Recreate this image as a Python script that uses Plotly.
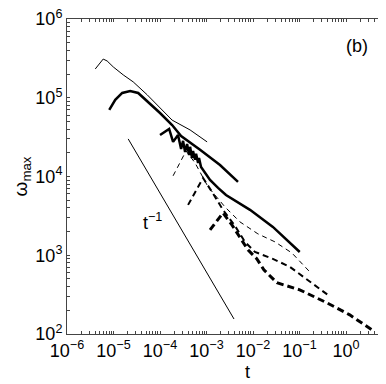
import plotly.graph_objects as go

# thin solid curve
thinT = [4.05e-6, 6.0e-6, 7.3e-6, 9.9e-6, 1.62e-5, 2.65e-5, 5.3e-5, 1.0e-4, 1.82e-4, 4.43e-4, 1.03e-3]
thinW = [2.32e5, 3.10e5, 2.93e5, 2.46e5, 1.95e5, 1.59e5, 1.09e5, 7.4e4, 5.2e4, 3.9e4, 2.75e4]

# thick solid curve
thickT = [8.1e-6, 1.09e-5, 1.54e-5, 2.28e-5, 3.39e-5, 5.56e-5, 1.0e-4, 1.82e-4, 2.84e-4, 7.26e-4, 1.95e-3, 4.75e-3]
thickW = [7.0e4, 9.4e4, 1.15e5, 1.22e5, 1.15e5, 8.85e4, 6.4e4, 4.5e4, 3.27e4, 2.18e4, 1.40e4, 8.55e3]

# thick solid curve with oscillations
oscT = [1.00e-4, 1.57e-4, 1.91e-4, 2.44e-4, 2.84e-4, 3.13e-4, 3.46e-4, 3.82e-4, 4.22e-4, 4.43e-4,
        4.89e-4, 5.13e-4, 5.66e-4, 5.96e-4, 6.58e-4, 6.90e-4, 7.62e-4, 8.41e-4, 1.19e-3, 1.77e-3,
        2.62e-3, 8.6e-3, 2.67e-2, 0.101]
oscW = [3.37e4, 4.02e4, 2.75e4, 3.37e4, 2.24e4, 2.83e4, 2.05e4, 2.59e4, 1.88e4, 2.38e4,
        1.72e4, 2.11e4, 1.63e4, 1.94e4, 1.49e4, 1.72e4, 1.32e4, 1.21e4, 9.06e3, 7.16e3,
        5.83e3, 3.77e3, 2.29e3, 1.10e3]

# dashed curves (thin, medium, thick)
dashThinT = [1.91e-4, 3.63e-4, 5.66e-4, 1.08e-3, 2.49e-3, 5.24e-3, 1.27e-2, 2.95e-2, 6.84e-2, 0.166]
dashThinW = [1.02e4, 2.11e4, 1.49e4, 7.38e3, 4.11e3, 2.65e3, 1.87e3, 1.48e3, 1.07e3, 615]

dashMedT = [4.01e-4, 8.41e-4, 1.31e-3, 2.26e-3, 4.09e-3, 6.70e-3, 1.10e-2, 2.67e-2, 6.19e-2, 0.166, 0.405]
dashMedW = [4.36e3, 9.6e3, 6.38e3, 3.77e3, 2.36e3, 1.48e3, 1.10e3, 900, 713, 459, 314]

dashThickT = [1.19e-3, 2.26e-3, 3.52e-3, 5.24e-3, 7.78e-3, 1.21e-2, 1.71e-2, 3.26e-2, 0.101, 0.386, 1.20, 4.12]
dashThickW = [2.10e3, 3.45e3, 2.43e3, 1.66e3, 1.17e3, 900, 653, 447, 364, 249, 175, 107]

# t^-1 reference line
refT = [2.07e-5, 3.9e-3]
refW = [3.0e4, 155]

xTickVals = [1e-6, 1e-5, 1e-4, 1e-3, 1e-2, 1e-1, 1e0]
xTickText = ['10<sup>\u22126</sup>', '10<sup>\u22125</sup>', '10<sup>\u22124</sup>', '10<sup>\u22123</sup>',
             '10<sup>\u22122</sup>', '10<sup>\u22121</sup>', '10<sup>0</sup>']
yTickVals = [1e2, 1e3, 1e4, 1e5, 1e6]
yTickText = ['10<sup>2</sup>', '10<sup>3</sup>', '10<sup>4</sup>', '10<sup>5</sup>', '10<sup>6</sup>']

# unlabelled ticks at 2..9 in each decade
xMinor = [m * 10.0 ** e for e in range(-6, 1) for m in range(2, 10)]
yMinor = [m * 10.0 ** e for e in range(2, 6) for m in range(2, 10)]


def addLine(fig, x, y, width, dash='solid'):
    fig.add_trace(go.Scatter(
        x=x, y=y, mode='lines',
        line=dict(color='black', width=width, dash=dash),
        showlegend=False, hoverinfo='skip'))


fig = go.Figure()
addLine(fig, thinT, thinW, 1)
addLine(fig, thickT, thickW, 2.5)
addLine(fig, oscT, oscW, 2.5)
addLine(fig, dashThinT, dashThinW, 1, '5px,4px')
addLine(fig, dashMedT, dashMedW, 2, '6px,4px')
addLine(fig, dashThickT, dashThickW, 3, '7px,4px')
addLine(fig, refT, refW, 1)

frameColor = '#444444'

fig.update_xaxes(
    type='log', range=[-6, 0.773],
    automargin=False, showgrid=False, zeroline=False,
    showline=True, linecolor=frameColor, linewidth=1, mirror='ticks',
    ticks='inside', ticklen=3, tickwidth=1, tickcolor=frameColor,
    tickmode='array', tickvals=xTickVals + xMinor, ticktext=xTickText + [''] * len(xMinor),
    tickfont=dict(size=18, color='black'),
    ticklabeloverflow='allow')
fig.update_yaxes(
    type='log', range=[2, 6],
    automargin=False, showgrid=False, zeroline=False,
    showline=True, linecolor=frameColor, linewidth=1, mirror='ticks',
    ticks='inside', ticklen=3, tickwidth=1, tickcolor=frameColor,
    tickmode='array', tickvals=yTickVals + yMinor, ticktext=yTickText + [''] * len(yMinor),
    tickfont=dict(size=18, color='black'),
    ticklabeloverflow='allow')

fig.add_annotation(x=0.230, y=5.657, xref='x', yref='y', text='(b)', showarrow=False,
                   font=dict(size=18, color='black'))
fig.add_annotation(x=-4.17, y=3.424, xref='x', yref='y', text='t<sup>\u22121</sup>', showarrow=False,
                   font=dict(size=18, color='black'))
fig.add_annotation(x=0.574, y=-0.12, xref='paper', yref='paper', text='t', showarrow=False,
                   xanchor='center', yanchor='middle', font=dict(size=18, color='black'))
fig.add_annotation(x=-0.143, y=0.5, xref='paper', yref='paper', text='\u03c9<sub>max</sub>',
                   textangle=-90, showarrow=False, xanchor='center', yanchor='middle',
                   font=dict(size=19, color='black'))

# the page body has an 8px margin, so the figure is a bit smaller than the window
fig.update_layout(
    width=378, height=376,
    margin=dict(l=59, r=4, t=11, b=50),
    paper_bgcolor='white',
    plot_bgcolor='white',
    font=dict(family='Liberation Sans, Arial, sans-serif', size=18, color='black'),
)

fig.write_html('out.html')
